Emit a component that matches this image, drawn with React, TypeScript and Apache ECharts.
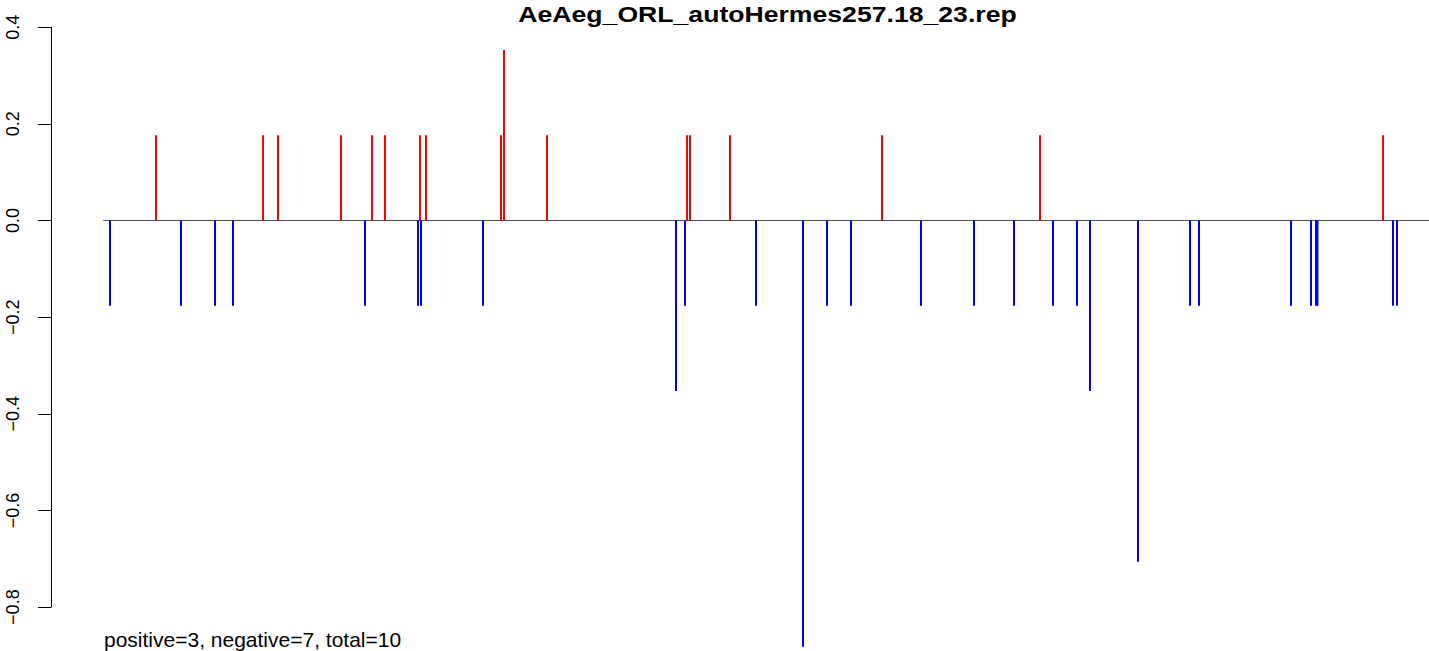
import React, { useEffect, useRef } from "react";
import * as echarts from "echarts";

const TITLE = "AeAeg_ORL_autoHermes257.18_23.rep";
const FOOTNOTE = "positive=3, negative=7, total=10";

// positions along the sequence (arbitrary units), and scores
const positivePositions = [105, 212, 227, 290, 321, 334, 369, 375, 450, 453, 496, 636, 639, 679, 831, 989, 1332];
const positiveValues = [0.1765, 0.1765, 0.1765, 0.1765, 0.1765, 0.1765, 0.1765, 0.1765, 0.1765, 0.353, 0.1765, 0.1765, 0.1765, 0.1765, 0.1765, 0.1765, 0.1765];

const negativePositions = [59, 130, 164, 182, 314, 367, 370, 432, 625, 634, 705, 752, 776, 800, 870, 923, 963, 1002, 1026, 1039, 1087, 1139, 1148, 1240, 1260, 1265, 1266.5, 1342, 1346];
const negativeValues = [-0.1765, -0.1765, -0.1765, -0.1765, -0.1765, -0.1765, -0.1765, -0.1765, -0.353, -0.1765, -0.1765, -0.882, -0.1765, -0.1765, -0.1765, -0.1765, -0.1765, -0.1765, -0.1765, -0.353, -0.706, -0.1765, -0.1765, -0.1765, -0.1765, -0.1765, -0.1765, -0.1765, -0.1765];

const yTickMin = -0.8;
const yTickMax = 0.4;
const yTickStep = 0.2;
const xRange = [0, 1400];
const yRange = [-0.932, 0.402];
const baselineRange = [52.3, 1400];

// plot region in pixels
const PLOT_LEFT = 51;
const PLOT_TOP = 26.22;
const PLOT_WIDTH = 1400;
const PLOT_HEIGHT = 644.7;
const pxPerUnit = PLOT_HEIGHT / (yRange[1] - yRange[0]);
// axis grid spans only the ticked range, as R draws the axis line
const AXIS_TOP = PLOT_TOP + (yRange[1] - yTickMax) * pxPerUnit;
const AXIS_HEIGHT = (yTickMax - yTickMin) * pxPerUnit;

function spikeSeries(name: string, xs: number[], ys: number[], color: string) {
  return {
    type: "custom",
    name,
    xAxisIndex: 0,
    yAxisIndex: 0,
    data: xs.map((x, i) => [x, ys[i]]),
    renderItem: (params: any, api: any) => {
      const x = api.value(0);
      const y = api.value(1);
      const p0 = api.coord([x, 0]);
      const p1 = api.coord([x, y]);
      return {
        type: "line",
        shape: { x1: p0[0], y1: p0[1], x2: p1[0], y2: p1[1] },
        style: { stroke: color, lineWidth: 2 },
      };
    },
    silent: true,
    clip: false,
    z: 3,
  };
}

export default function App() {
  const ref = useRef<HTMLDivElement>(null);
  useEffect(() => {
    if (!ref.current) return;
    const chart = echarts.init(ref.current, null, { renderer: "svg" });
    chart.setOption({
      animation: false,
      backgroundColor: "#ffffff",
      grid: [
        {
          left: PLOT_LEFT,
          top: PLOT_TOP,
          width: PLOT_WIDTH,
          height: PLOT_HEIGHT,
          containLabel: false,
          outerBoundsMode: "none",
        },
        {
          left: PLOT_LEFT,
          top: AXIS_TOP,
          width: PLOT_WIDTH,
          height: AXIS_HEIGHT,
          containLabel: false,
          outerBoundsMode: "none",
        },
      ],
      xAxis: [
        { type: "value", gridIndex: 0, min: xRange[0], max: xRange[1], show: false },
        { type: "value", gridIndex: 1, min: xRange[0], max: xRange[1], show: false },
      ],
      yAxis: [
        { type: "value", gridIndex: 0, min: yRange[0], max: yRange[1], show: false },
        {
          type: "value",
          gridIndex: 1,
          min: yTickMin,
          max: yTickMax,
          interval: yTickStep,
          axisLine: { show: true, lineStyle: { color: "#000", width: 1 } },
          splitLine: { show: false },
          axisTick: { show: true, length: 13, lineStyle: { color: "#000", width: 1 } },
          axisLabel: {
            show: true,
            rotate: 90,
            margin: 29,
            fontSize: 18,
            fontFamily: "Liberation Sans",
            color: "#000",
            formatter: (v: number) => (v < -1e-9 ? "\u2212" : "") + Math.abs(v).toFixed(1),
          },
        },
      ],
      series: [
        {
          type: "line",
          name: "baseline",
          xAxisIndex: 0,
          yAxisIndex: 0,
          data: [[baselineRange[0], 0], [baselineRange[1], 0]],
          symbol: "none",
          lineStyle: { color: "#4d4d4d", width: 1 },
          silent: true,
          z: 2,
        },
        spikeSeries("positive", positivePositions, positiveValues, "#ff0000"),
        spikeSeries("negative", negativePositions, negativeValues, "#0000ff"),
      ],
      graphic: [
        {
          type: "text",
          x: 767.5,
          y: 14,
          scaleX: 1.21,
          style: {
            text: TITLE,
            font: 'bold 22px "Liberation Sans"',
            fill: "#000",
            textAlign: "center",
            textVerticalAlign: "middle",
          },
        },
        {
          type: "text",
          x: 104,
          y: 639,
          style: {
            text: FOOTNOTE,
            font: '21px "Liberation Sans"',
            fill: "#000",
            textAlign: "left",
            textVerticalAlign: "middle",
          },
        },
      ],
    });
    return () => chart.dispose();
  }, []);
  return (
    <div
      ref={ref}
      style={{ position: "fixed", left: 0, top: 0, width: 1429, height: 651, background: "#fff" }}
    />
  );
}
